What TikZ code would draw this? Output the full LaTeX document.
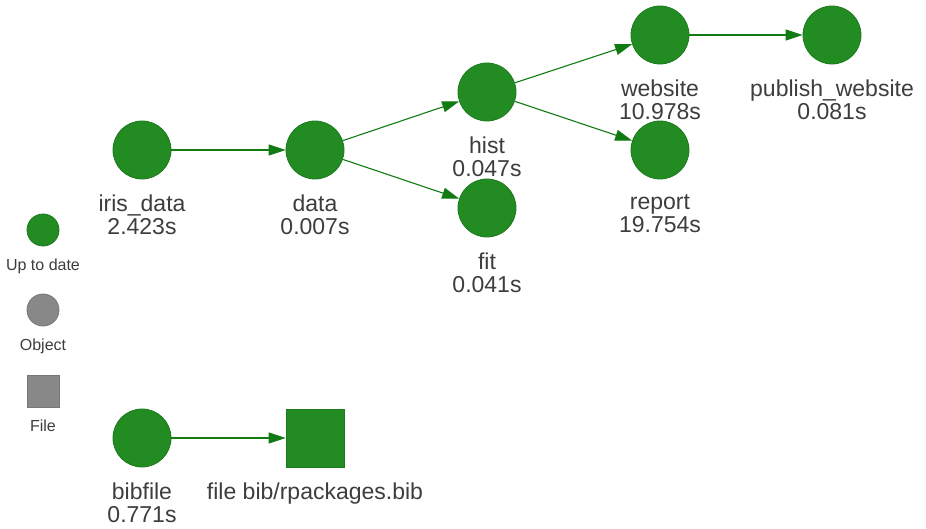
\documentclass[tikz,border=0pt]{standalone}
\usepackage{fontspec}
\setmainfont{Liberation Sans}
\usetikzlibrary{arrows.meta}

\definecolor{uptodate}{HTML}{228B22}
\definecolor{uptodateline}{HTML}{1C7A1C}
\definecolor{object}{HTML}{888888}
\definecolor{objectline}{HTML}{777777}
\definecolor{labeltext}{HTML}{3D3D3D}
\definecolor{edge}{HTML}{127A12}

\begin{document}
\begin{tikzpicture}[x=1pt, y=1pt]
        \tikzstyle{target}=[circle, fill=uptodate, draw=uptodateline, line width=0.8pt, minimum size=58pt, inner sep=0pt]
        \tikzstyle{filetarget}=[target, rectangle]
        \tikzstyle{legend}=[circle, fill=uptodate, draw=uptodateline, line width=0.8pt, minimum size=32pt, inner sep=0pt]
        \tikzstyle{every label}=[align=center, inner sep=0pt, yshift=-15pt, text=labeltext, font=\fontsize{23}{23}\selectfont]
        \tikzstyle{legendlabel}=[yshift=3pt, font=\fontsize{16}{18}\selectfont]
        \tikzstyle{dep}=[draw=edge, line width=1.1pt, -{Triangle[length=17pt, width=11pt]}]

        \useasboundingbox (0,0) rectangle (926,-529);

        % legend
        \node (uptodate) [legend, label={[legendlabel]270:Up to date}] at (43,-230) {};
        \node (object)   [legend, fill=object, draw=objectline, label={[legendlabel]270:Object}] at (43,-310) {};
        \node (file)     [legend, rectangle, fill=object, draw=objectline, label={[legendlabel]270:File}] at (43,-391) {};

        % targets
        \node (iris)    [target, label=270:iris\_data\\2.423s] at (142,-150) {};
        \node (data)    [target, label=270:data\\0.007s] at (315,-150) {};
        \node (hist)    [target, label=270:hist\\0.047s] at (487,-92) {};
        \node (fit)     [target, label=270:fit\\0.041s] at (487,-208) {};
        \node (website) [target, label=270:website\\10.978s] at (660,-35) {};
        \node (report)  [target, label=270:report\\19.754s] at (660,-150) {};
        \node (publish) [target, label=270:publish\_website\\0.081s] at (832,-35) {};
        \node (bibfile) [target, label=270:bibfile\\0.771s] at (142,-438) {};
        \node (bib)     [filetarget, label=270:file bib/rpackages.bib] at (315,-438) {};

        \draw[dep] (iris) -- (data);
        \draw[dep] (data) -- (hist);
        \draw[dep] (data) -- (fit);
        \draw[dep] (hist) -- (website);
        \draw[dep] (hist) -- (report);
        \draw[dep] (website) -- (publish);
        \draw[dep] (bibfile) -- (bib);

    \end{tikzpicture}
\end{document}
